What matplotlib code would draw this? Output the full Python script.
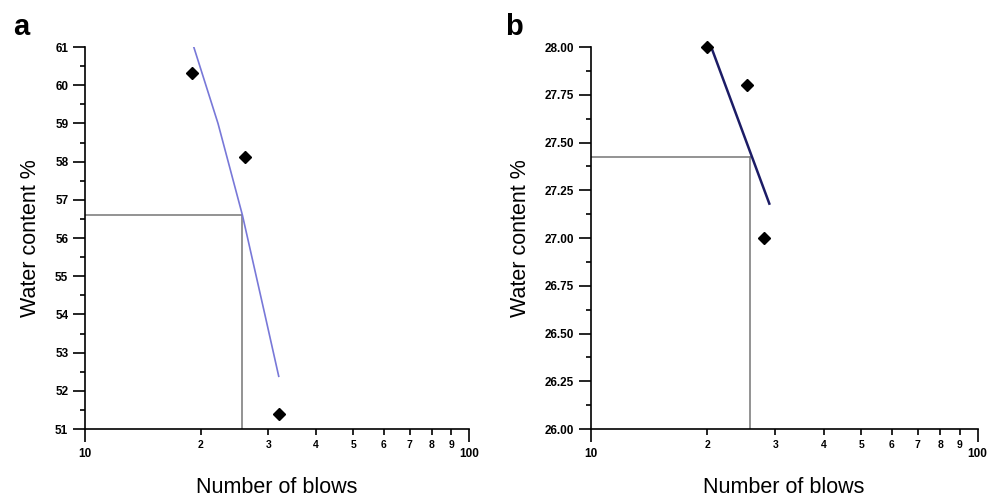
import numpy as np
import matplotlib
matplotlib.use("Agg")
import matplotlib.pyplot as plt
from matplotlib.ticker import FixedLocator, MultipleLocator

plt.rcParams['font.family'] = ['Liberation Sans', 'DejaVu Sans']

# panel a : measured points, fitted line, liquid-limit guide
blows_a = [19.03, 26.06, 32.06]
water_a = [60.31, 58.11, 51.38]
fit_a_x = [19.2, 22.2, 25.7, 29.4, 31.95]
fit_a_y = [61.0, 59.0, 56.6, 54.0, 52.38]
guide_a = (25.7, 56.6)

# panel b
blows_b = [19.95, 25.35, 27.99]
water_b = [28.00, 27.80, 27.00]
fit_b_x = [20.4, 28.95]
fit_b_y = [28.01, 27.18]
guide_b = (25.8, 27.424)

minor_x = [20, 30, 40, 50, 60, 70, 80, 90]
minor_x_labels = ['2', '3', '4', '5', '6', '7', '8', '9']


def draw(ax, bx, wy, fx, fy, guide, ylim, ymaj, ymin, yfmt, fitcolor, fitlw):
    ax.set_xscale('log')
    ax.set_xlim(10, 100)
    ax.set_ylim(*ylim)
    gx, gy = guide
    ax.plot([10, gx], [gy, gy], color='#808080', lw=1.2, zorder=2)
    ax.plot([gx, gx], [ylim[0], gy], color='#808080', lw=1.2, zorder=2)
    ax.plot(fx, fy, color=fitcolor, lw=fitlw, zorder=3)
    ax.plot(bx, wy, 'D', color='black', markersize=6.5, zorder=4, clip_on=False)

    for s in ['top', 'right']:
        ax.spines[s].set_visible(False)
    for s in ['left', 'bottom']:
        ax.spines[s].set_linewidth(1.2)

    ax.xaxis.set_major_locator(FixedLocator([10, 100]))
    ax.set_xticklabels(['10', '100'])
    ax.xaxis.set_minor_locator(FixedLocator(minor_x))
    ax.set_xticklabels(minor_x_labels, minor=True)
    ax.tick_params(axis='x', which='major', length=9, width=1.2, pad=5,
                   labelsize=8.5)
    ax.tick_params(axis='x', which='minor', length=4, width=1.2, pad=4,
                   labelsize=7.5)
    for lab in ax.get_xticklabels() + ax.get_xticklabels(minor=True):
        lab.set_fontweight('bold')

    ax.yaxis.set_major_locator(MultipleLocator(ymaj))
    ax.yaxis.set_minor_locator(MultipleLocator(ymin))
    ax.yaxis.set_major_formatter(yfmt)
    ax.tick_params(axis='y', which='major', length=9, width=1.2, pad=3,
                   labelsize=8.5)
    ax.tick_params(axis='y', which='minor', length=3.6, width=1.2)
    for lab in ax.get_yticklabels():
        lab.set_fontweight('bold')

    ax.set_xlabel('Number of blows', fontsize=15.5, labelpad=12)
    ax.set_ylabel('Water content %', fontsize=15.5, labelpad=10)


fig = plt.figure(figsize=(10.02, 4.97), dpi=100)
ax1 = fig.add_axes([0.0848, 0.1368, 0.3833, 0.7686])
ax2 = fig.add_axes([0.5895, 0.1368, 0.3862, 0.7686])

draw(ax1, blows_a, water_a, fit_a_x, fit_a_y, guide_a, (51, 61), 1, 0.5,
     '{x:.0f}', '#7878d8', 1.2)
draw(ax2, blows_b, water_b, fit_b_x, fit_b_y, guide_b, (26, 28), 0.25, 0.125,
     '{x:.2f}', '#1c1c66', 1.8)

fig.text(13 / 1002, 1 - 35 / 497, 'a', fontsize=21, fontweight='bold',
         va='baseline')
fig.text(505 / 1002, 1 - 35 / 497, 'b', fontsize=21, fontweight='bold',
         va='baseline')

fig.savefig('out.png', dpi=100)
